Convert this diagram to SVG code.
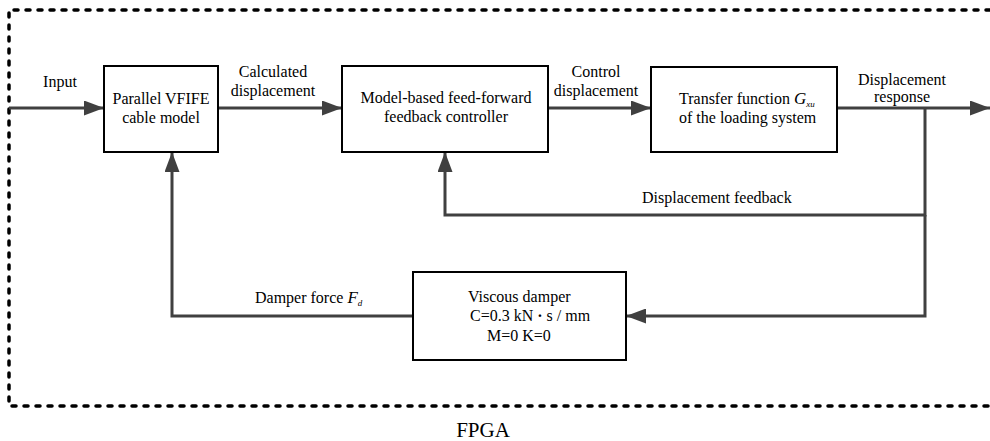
<svg xmlns="http://www.w3.org/2000/svg" width="990" height="441" viewBox="0 0 990 441">
  <style>
    .box { fill: #ffffff; stroke: #000000; stroke-width: 2; }
    .wire { fill: none; stroke: #404040; stroke-width: 3; }
    .frame { fill: none; stroke: #000000; stroke-width: 3.5; stroke-dasharray: 4 8; stroke-linecap: round; }
    text { font-family: "Liberation Serif", "Times New Roman", serif; font-size: 16px; fill: #000000; }
    .mid { text-anchor: middle; }
    .it { font-style: italic; }
    .sub { font-style: italic; font-size: 9px; }
  </style>
  <defs>
    <marker id="arrow" markerUnits="userSpaceOnUse" markerWidth="20" markerHeight="15" refX="20" refY="7.5" orient="auto">
      <path d="M0,0 L20,7.5 L0,15 z" fill="#404040"/>
    </marker>
  </defs>

  <!-- FPGA boundary (open on the right) -->
  <g id="fpga-frame">
    <path class="frame" d="M990,10 H9 V406 H990"/>
    <text x="483" y="437" class="mid" style="font-size:21px">FPGA</text>
  </g>

  <!-- connectors -->
  <g id="connectors">
    <path class="wire" d="M9,108 H104" marker-end="url(#arrow)"/>
    <path class="wire" d="M218,108 H342" marker-end="url(#arrow)"/>
    <path class="wire" d="M548,108 H651" marker-end="url(#arrow)"/>
    <path class="wire" d="M837,108 H990" marker-end="url(#arrow)"/>
    <path class="wire" d="M925,108 V215 H445 V152" marker-end="url(#arrow)"/>
    <path class="wire" d="M925,215 V316 H626" marker-end="url(#arrow)"/>
    <path class="wire" d="M413,316 H172 V152" marker-end="url(#arrow)"/>

    <text x="60" y="87" class="mid">Input</text>
    <text x="273" y="77" class="mid">Calculated</text>
    <text x="273" y="96" class="mid">displacement</text>
    <text x="596" y="77" class="mid">Control</text>
    <text x="596" y="96" class="mid">displacement</text>
    <text x="902" y="85" class="mid">Displacement</text>
    <text x="902" y="102" class="mid">response</text>
    <text x="642" y="203">Displacement feedback</text>
    <text x="255" y="303">Damper force <tspan class="it" style="font-size:17px">F</tspan><tspan class="sub" dy="3">d</tspan></text>
  </g>

  <g id="vfife-model">
    <rect class="box" x="104" y="66" width="114" height="86"/>
    <text x="161" y="104" class="mid">Parallel VFIFE</text>
    <text x="161" y="123" class="mid">cable model</text>
  </g>

  <g id="controller">
    <rect class="box" x="342" y="66" width="206" height="86"/>
    <text x="446" y="103" class="mid">Model-based feed-forward</text>
    <text x="446" y="122" class="mid">feedback controller</text>
  </g>

  <g id="loading-system">
    <rect class="box" x="651" y="67" width="186" height="85"/>
    <text x="679" y="104">Transfer function <tspan class="it" style="font-size:17px">G</tspan><tspan class="sub" dy="2.5">xu</tspan></text>
    <text x="679" y="123">of the loading system</text>
  </g>

  <g id="viscous-damper">
    <rect class="box" x="413" y="272" width="213" height="88"/>
    <text x="468" y="302">Viscous damper</text>
    <text x="470" y="321">C=0.3 kN <tspan font-weight="bold">·</tspan> s / mm</text>
    <text x="487" y="341">M=0 K=0</text>
  </g>
</svg>
